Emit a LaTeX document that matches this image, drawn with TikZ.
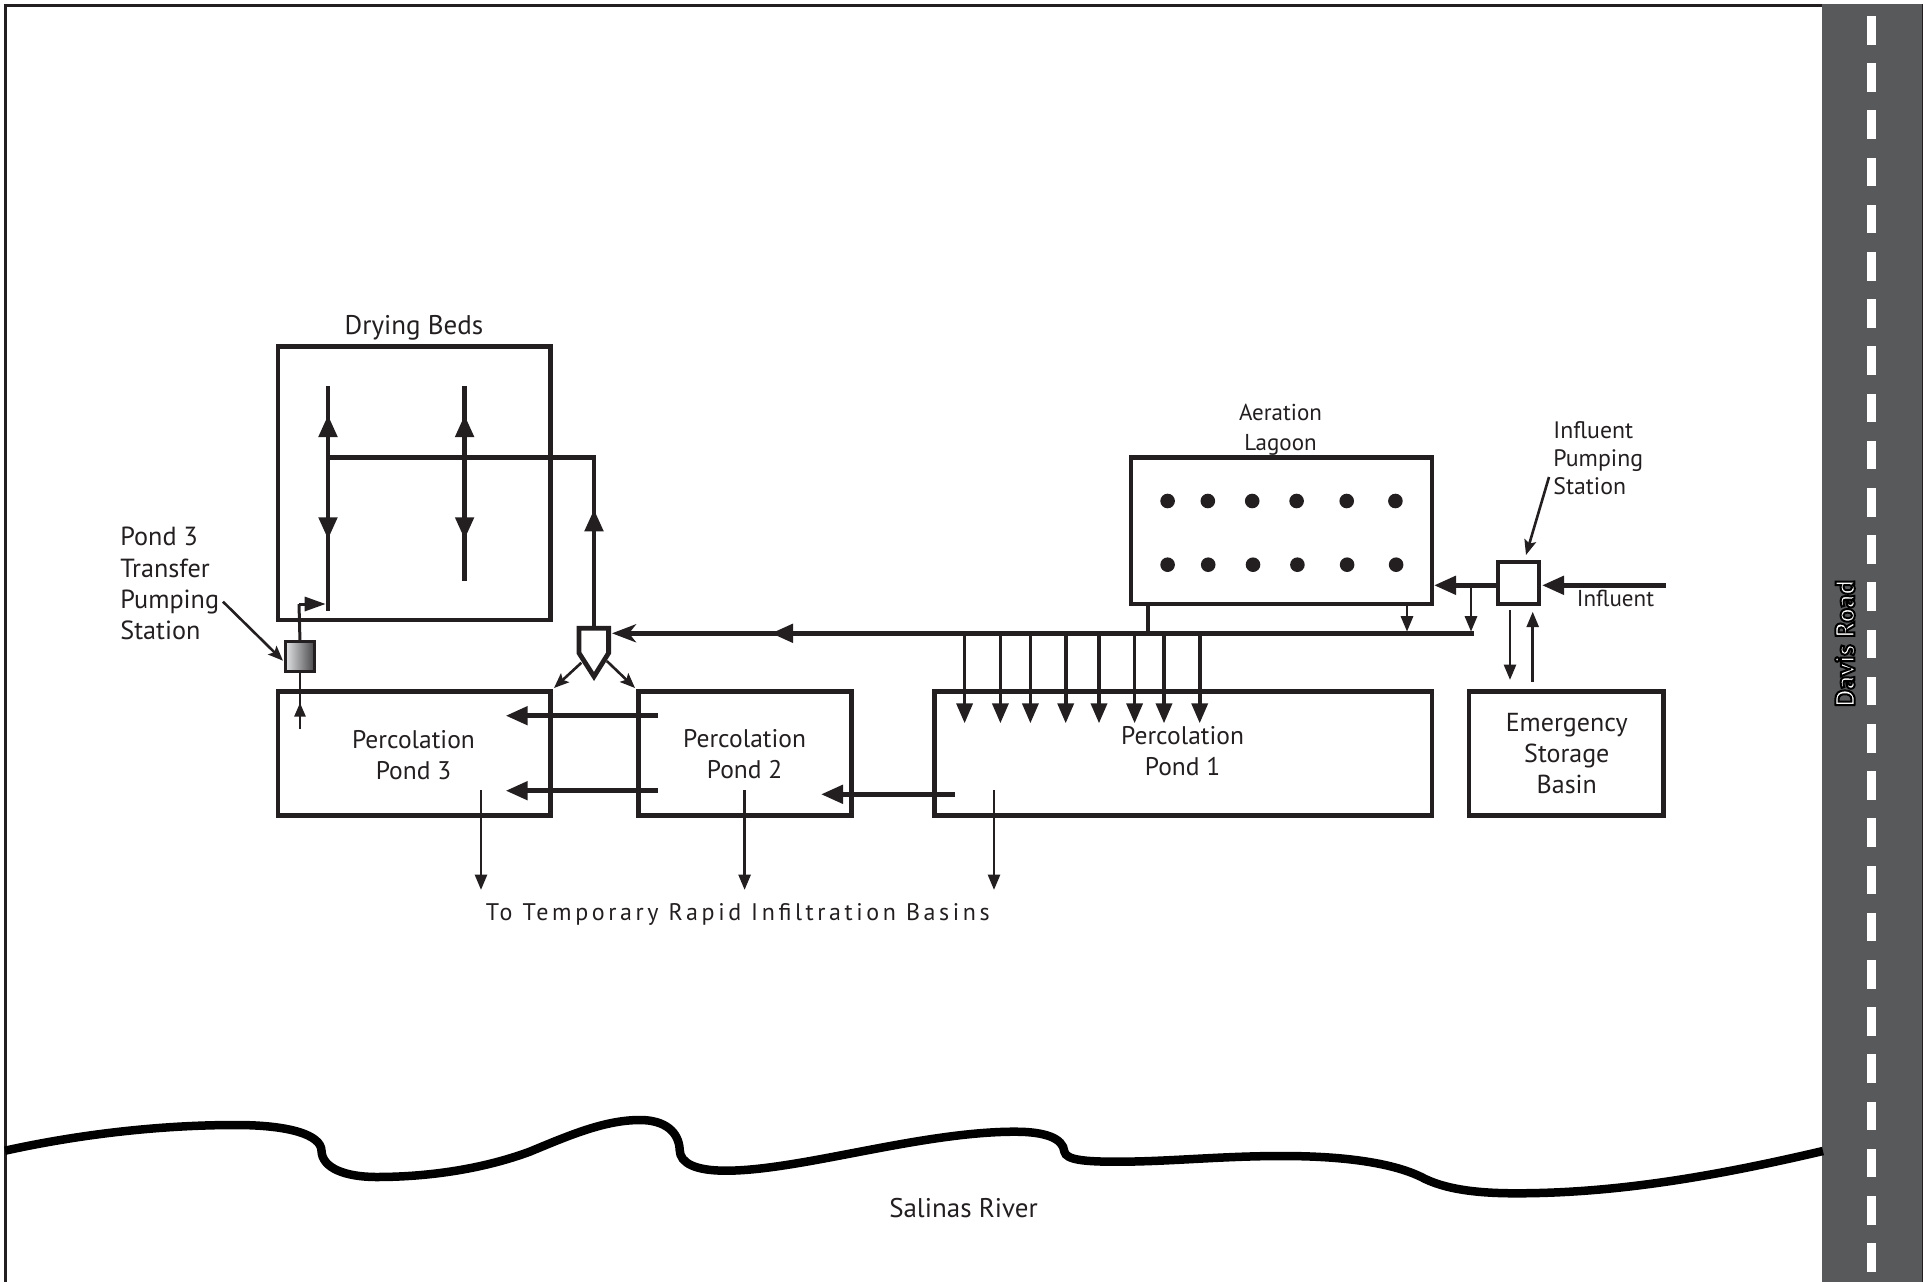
\documentclass[tikz,border=0pt]{standalone}
\usepackage{fontspec}
\setmainfont{PT Sans}
\newfontfamily\spacedfont{PT Sans}[LetterSpace=15]
\usepackage{tikz}
\usetikzlibrary{arrows.meta,positioning,calc}
\definecolor{plantink}{HTML}{231F20}
\definecolor{roadgray}{HTML}{58595B}
\definecolor{pumplight}{HTML}{E2E3E4}
\definecolor{pumpdark}{HTML}{48484A}
\newcommand{\outlinetext}[1]{\special{pdf:code 2 Tr 2 w 0 0 0 RG}#1\special{pdf:code 0 Tr}}
\begin{document}
\begin{tikzpicture}[x=1pt,y=-1pt,font=\fontsize{25.5}{31}\selectfont,text=plantink,
 basin/.style={draw=plantink,line width=4.6pt,outer sep=0pt,inner sep=0pt},
 lab/.style={inner sep=0pt,align=left},
 midlab/.style={inner sep=0pt,align=center},
 heavy/.style={draw=plantink,line width=4.8pt},
 ar/.style={heavy,-{Triangle[length=22pt,width=18pt]}},
 arb/.style={heavy,-{Stealth[length=24pt,width=18pt,inset=7pt]}},
 slim/.style={draw=plantink,line width=2.8pt,-{Triangle[length=15.5pt,width=12pt]}},
 feed/.style={draw=plantink,line width=3.6pt,-{Triangle[length=20pt,width=16pt]}},
 lead/.style={draw=plantink,line width=2.6pt,-{Stealth[length=15pt,width=12pt,inset=3pt]}}]
\useasboundingbox (0,0) rectangle (1923,1282);
% frame and road
\draw[plantink,line width=3pt] (5,1282) -- (5,5.3) -- (1822,5.3);
\fill[roadgray] (1822,4) rectangle (1923,1282);
\draw[plantink,line width=1.5pt] (1922.4,4) -- (1922.4,1282);
\foreach \n in {0,...,26}
 {\fill[white] (1866.7,16+47.2*\n) rectangle (1876.3,44.5+47.2*\n);}
\node[rotate=90,inner sep=0pt,white,font=\bfseries\fontsize{27}{31}\selectfont] (roadlab) at (1845,643.5) {\outlinetext{Davis Road}};
% river
\draw[black,line width=8.5pt] (5,1150.7) .. controls (90,1132) and (170,1125) .. (235.8,1125)
 .. controls (290,1125) and (321,1135) .. (321.5,1150.7)
 .. controls (322,1168) and (345,1177) .. (376.6,1177)
 .. controls (425,1177) and (480,1170) .. (529.7,1151.7)
 .. controls (570,1135) and (605,1120) .. (640,1120)
 .. controls (665,1120) and (679,1132) .. (679.7,1150)
 .. controls (680,1163) and (695,1170.7) .. (725.7,1170.7)
 .. controls (800,1170.7) and (920,1131.7) .. (1015,1131.7)
 .. controls (1045,1131.7) and (1063,1138) .. (1064.4,1151.7)
 .. controls (1066,1160) and (1085,1161.7) .. (1116.6,1161.7)
 .. controls (1170,1161.7) and (1220,1156) .. (1282.5,1156)
 .. controls (1340,1156) and (1390,1162) .. (1420.7,1176.7)
 .. controls (1445,1190) and (1480,1193.3) .. (1516,1193.3)
 .. controls (1620,1193.3) and (1720,1175) .. (1823,1151);
\node[inner sep=0pt,font=\fontsize{27}{31}\selectfont] (riverlab) at (963.5,1208) {Salinas River};
% basins
\node[basin,minimum width=272.5pt,minimum height=273.7pt] (beds) at (414.2,483.2) {};
\node[basin,minimum width=272.5pt,minimum height=124.4pt] (pond3) at (414.2,753.5) {};
\node[basin,minimum width=212.8pt,minimum height=124.4pt] (pond2) at (745,753.5) {};
\node[basin,minimum width=497.7pt,minimum height=124.4pt] (pond1) at (1183.2,753.5) {};
\node[basin,minimum width=194.6pt,minimum height=124pt] (storage) at (1566.3,753.7) {};
\node[basin,minimum width=301pt,minimum height=146.7pt] (lagoon) at (1281.5,530.6) {};
\node[basin,minimum width=41pt,minimum height=42pt] (infpump) at (1518.5,583) {};
\node[draw=plantink,line width=2.6pt,outer sep=0pt,left color=pumplight,right color=pumpdark,minimum width=29pt,minimum height=30pt] (xferpump) at (300,656.7) {};
% labels
\node[midlab] (pond3lab) at (413.5,755) {Percolation\\Pond 3};
\node[midlab] (pond2lab) at (744.6,754) {Percolation\\Pond 2};
\node[midlab] (pond1lab) at (1182.6,751) {Percolation\\Pond 1};
\node[midlab,font=\fontsize{26}{31.2}\selectfont] (storagelab) at (1566.8,753.7) {Emergency\\Storage\\Basin};
\node[inner sep=0pt,font=\fontsize{27}{31}\selectfont] (bedslab) at (414,328) {Drying Beds};
\node[midlab,font=\fontsize{23}{29.5}\selectfont] (lagoonlab) at (1280.5,430) {Aeration\\Lagoon};
\node[lab,anchor=west,font=\fontsize{23.8}{28.2}\selectfont] (inflab) at (1553.2,458) {Influent\\Pumping\\Station};
\node[lab,anchor=west,font=\fontsize{23}{28}\selectfont] (influent) at (1576.7,598.5) {Influent};
\node[lab,anchor=west,font=\fontsize{26.2}{31.2}\selectfont] (xferlab) at (120.2,583.5) {Pond 3\\Transfer\\Pumping\\Station};
\node[inner sep=0pt,font=\spacedfont\fontsize{24}{28}\selectfont] (tobasins) at (737.8,914.5) {To Temporary Rapid Infiltration Basins};
% aerators
\foreach \x/\y in {1167.6/501,1207.8/501,1252.2/501,1296.6/501,1346.7/501,1395.4/501,1167.6/564.7,1208.2/564.7,1253/564.7,1297.4/564.7,1347.1/564.7,1396.1/564.7}
 {\fill[plantink] (\x,\y) circle (7.3pt);}
% drying bed pipes
\coordinate (bedAtop) at (328,386);
\coordinate (bedAup) at (328,415);
\coordinate (bedAdn) at (328,539.3);
\coordinate (bedAend) at (328,610.7);
\coordinate (bedBtop) at (464.6,386);
\coordinate (bedBup) at (464.6,415);
\coordinate (bedBdn) at (464.6,539.3);
\coordinate (bedBend) at (464.6,581);
\coordinate (bedAjoin) at (328,457.3);
\coordinate (bedBjoin) at (464.6,457.3);
\coordinate (retcorner) at (594,457.3);
\coordinate (retup) at (594,509.3);
\coordinate (valvetop) at (594,628.3);
\draw[heavy] (bedAtop) -- (bedAend);
\draw[heavy] (bedBtop) -- (bedBend);
\draw[ar] (bedAjoin) -- (bedAup);
\draw[ar] (bedAjoin) -- (bedAdn);
\draw[ar] (bedBjoin) -- (bedBup);
\draw[ar] (bedBjoin) -- (bedBdn);
\draw[heavy] (bedAjoin) -- (retcorner) -- (valvetop);
\draw[ar] (valvetop) -- (retup);
% splitter
\coordinate (valveA) at (579,628.3);
\coordinate (valveB) at (608.6,628.3);
\coordinate (valveC) at (608.6,653);
\coordinate (valveD) at (594,676.5);
\coordinate (valveE) at (579,653);
\draw[heavy,fill=white] (valveA) -- (valveB) -- (valveC) -- (valveD) -- (valveE) -- cycle;
\coordinate (splitL) at (581.4,662.7);
\coordinate (splitLend) at (554,688);
\coordinate (splitR) at (606.8,661);
\coordinate (splitRend) at (635,688);
\draw[lead] (splitL) -- (splitLend);
\draw[lead] (splitR) -- (splitRend);
% main line
\coordinate (mainR) at (1474,633.3);
\coordinate (mainM) at (771,633.3);
\coordinate (mainL) at (612,633.3);
\coordinate (lagoonout) at (1148,604);
\coordinate (lagoonjoin) at (1148,633.3);
\draw[arb] (mainR) -- (mainL);
\draw[ar] (mainR) -- (mainM);
\draw[heavy] (lagoonout) -- (lagoonjoin);
\foreach \n/\x in {a/964.6,b/1000.4,c/1030.4,d/1065.7,e/1099,f/1134.6,g/1164,h/1199.7}
 {\coordinate (comb\n) at (\x,633.3);
  \coordinate (drop\n) at (\x,723.3);
  \draw[feed] (comb\n) -- (drop\n);}
% influent side
\coordinate (infstart) at (1665.5,585.3);
\coordinate (infin) at (1542,585.3);
\coordinate (lagoonin) at (1434,585.3);
\coordinate (bypass) at (1471,585.3);
\coordinate (bypassend) at (1471,631.7);
\coordinate (lagoondrain) at (1407,604);
\coordinate (draindrop) at (1407,631.7);
\draw[ar] (infstart) -- (infin);
\draw[ar] (infpump.west |- infin) -- (lagoonin);
\draw[slim] (bypass) -- (bypassend);
\draw[slim] (lagoondrain) -- (draindrop);
\coordinate (storeA) at (1510,610);
\coordinate (storeAend) at (1510,680);
\coordinate (storeB) at (1532.7,681.7);
\coordinate (storeBend) at (1532.7,611.7);
\draw[slim] (storeA) -- (storeAend);
\draw[slim] (storeB) -- (storeBend);
\coordinate (inflead) at (1549,477);
\coordinate (infleadend) at (1526,555);
\draw[lead] (inflead) -- (infleadend);
% pond transfers
\coordinate (twoA) at (657.5,715.7);
\coordinate (twoAend) at (505.7,715.7);
\coordinate (twoB) at (657.5,790.7);
\coordinate (twoBend) at (505.7,790.7);
\coordinate (oneA) at (954.6,794.3);
\coordinate (oneAend) at (821,794.3);
\draw[ar] (twoA) -- (twoAend);
\draw[ar] (twoB) -- (twoBend);
\draw[ar] (oneA) -- (oneAend);
\foreach \n/\x in {c/481,b/744.6,a/994}
 {\coordinate (out\n) at (\x,790);
  \coordinate (outend\n) at (\x,890);
  \draw[slim] (out\n) -- (outend\n);}
% transfer pump
\coordinate (xfertop) at (299,604);
\coordinate (xferend) at (325.7,604);
\draw[draw=plantink,line width=3pt] (xferpump.north) -- (xfertop);
\draw[draw=plantink,line width=3pt,-{Triangle[length=21pt,width=14pt]}] (xfertop) -- (xferend);
\coordinate (xferfoot) at (300,729);
\coordinate (xfermid) at (300,702.7);
\draw[draw=plantink,line width=2.7pt] (xferfoot) -- (xferpump.south);
\draw[slim,-{Triangle[length=14pt,width=11pt]}] (xferfoot) -- (xfermid);
\coordinate (xferlead) at (223,601.7);
\coordinate (xferleadend) at (283,660.7);
\draw[lead] (xferlead) -- (xferleadend);
\end{tikzpicture}
\end{document}
